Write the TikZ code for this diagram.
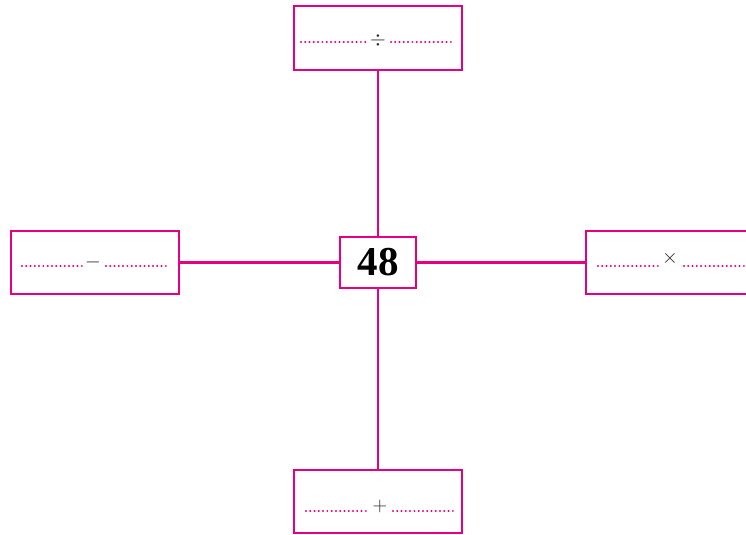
\documentclass[tikz,border=0pt]{standalone}
\usepackage{fontspec}
\setmainfont{Liberation Serif}
\usepackage{tikz}
\usetikzlibrary{positioning}
\definecolor{magline}{RGB}{230,0,126}
\tikzstyle{box} = [draw=magline, line width=1.8pt, inner sep=0pt, minimum width=5.04cm, minimum height=1.9cm]
\tikzstyle{numbox} = [draw=magline, line width=1.8pt, inner sep=0pt, minimum width=2.28cm, minimum height=1.53cm, font=\fontsize{35}{35}\selectfont\bfseries]
\tikzstyle{joinline} = [draw=magline, line width=2pt]
\tikzstyle{blanks} = [draw=magline, line width=1.9pt, line cap=round, dash pattern=on 0pt off 3.65pt]
\tikzstyle{op} = [inner sep=0pt, text=black!85, font=\fontsize{18}{18}\selectfont]

\begin{document}
\begin{tikzpicture}[x=0.03cm,y=-0.03cm]
    \useasboundingbox (0,0) rectangle (746,535);
    \node[numbox] (num) at (378,262.5) {48};
    \node[box] (divbox) at (378,38) {};
    \node[box] (subbox) at (95,262.5) {};
    \node[box] (mulbox) at (670,262.5) {};
    \node[box] (addbox) at (378,501.5) {};
    \draw[joinline] (divbox.south) -- (num.north);
    \draw[joinline] (addbox.north) -- (num.south);
    \draw[joinline] (subbox.east) -- (num.west);
    \draw[joinline] (mulbox.west) -- (num.east);
    % operators
    \node[op] (div) at (378,40) {$\div$};
    \node[op] (sub) at (93,262) {$-$};
    \node[op] (mul) at (670,258) {$\times$};
    \node[op] (add) at (380,506) {$+$};
    % dotted blanks
    \foreach \xa/\xb/\y in {301/366/42,391/455/42,22/82/266,106/166/266,
        598/660/266,684/746/266,306/368/511,393/455/511}{
        \draw[blanks] (\xa,\y) -- (\xb,\y);
    }
\end{tikzpicture}
\end{document}
